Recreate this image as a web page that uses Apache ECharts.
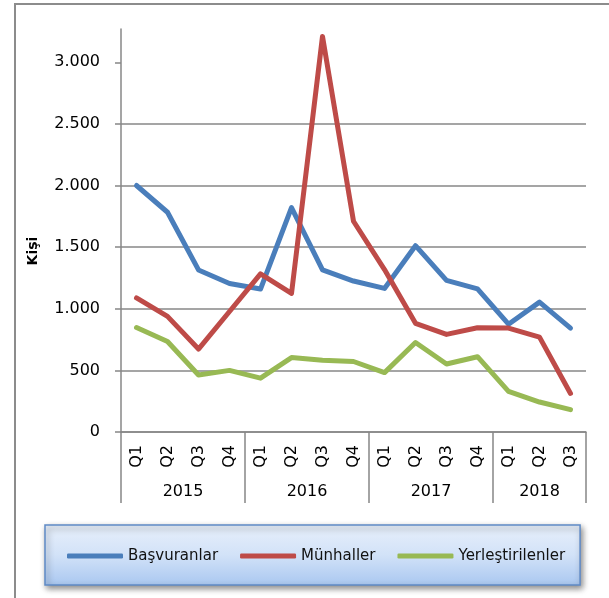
<!DOCTYPE html>
<html>
<head>
<meta charset="utf-8">
<script src="https://cdn.jsdelivr.net/npm/echarts@6/dist/echarts.min.js"></script>
<style>
html,body{margin:0;padding:0;background:#fff;}
#chart{width:609px;height:598px;}
</style>
</head>
<body>
<div id="chart"></div>
<script>
// veriler
var quarters = ['Q1','Q2','Q3','Q4','Q1','Q2','Q3','Q4','Q1','Q2','Q3','Q4','Q1','Q2','Q3'];
var years = ['2015','2016','2017','2018'];
var quartersPerYear = [4, 4, 4, 3];
var yTicks = [0, 500, 1000, 1500, 2000, 2500, 3000];
var basvuranlar = [2000, 1783, 1315, 1205, 1160, 1820, 1315, 1225, 1165, 1512, 1230, 1162, 875, 1054, 843];
var munhaller = [1088, 938, 673, 978, 1283, 1124, 3210, 1710, 1318, 882, 792, 846, 843, 770, 313];
var yerlestirilenler = [848, 734, 463, 500, 437, 604, 583, 572, 482, 726, 552, 611, 330, 243, 181];

// yil sinirlari ve ortalari
var bounds = [0], mids = [];
quartersPerYear.forEach(function(n, i){
    mids.push(bounds[i] + n / 2);
    bounds.push(bounds[i] + n);
});

var gray = '#878787';
var font = 'DejaVu Sans';

var myChart = echarts.init(document.getElementById('chart'));
var option = {
    animation: false,
    color: ['#4a7ebb', '#be4b48', '#98b954'],
    grid: {left: 121, right: 23, top: 29, bottom: 166},
    graphic: [
        {type: 'rect', shape: {x: 15, y: 4, width: 700, height: 700},
         style: {fill: 'none', stroke: '#8c8c8c', lineWidth: 2}, silent: true},
        {type: 'text', x: 33, y: 251, rotation: Math.PI / 2,
         style: {text: 'Kişi', fontFamily: font, fontWeight: 'bold', fontSize: 14,
                 fill: '#000', align: 'center', verticalAlign: 'middle'}}
    ],
    legend: {
        left: 45, top: 525,
        padding: [21, 15, 19, 22],
        itemGap: 22, itemWidth: 56, itemHeight: 5,
        icon: 'roundRect',
        textStyle: {fontFamily: font, fontSize: 15, color: '#111', lineHeight: 20},
        backgroundColor: new echarts.graphic.LinearGradient(0, 0, 0, 1, [
            {offset: 0, color: '#e8f0fb'},
            {offset: 0.5, color: '#d2e2f8'},
            {offset: 1, color: '#a9c7f0'}
        ]),
        borderColor: '#5f8ac6', borderWidth: 1.5,
        shadowBlur: 6, shadowColor: 'rgba(0,0,0,0.45)', shadowOffsetX: 2, shadowOffsetY: 3,
        data: ['Başvuranlar', 'Münhaller', 'Yerleştirilenler']
    },
    xAxis: [
        {
            type: 'category', data: quarters, boundaryGap: true,
            axisLine: {lineStyle: {color: gray, width: 1.5}},
            axisTick: {interval: 0, length: 35, lineStyle: {color: gray, width: 1.5}},
            axisLabel: {interval: 0, rotate: 90, margin: 13, fontFamily: font, fontSize: 16, color: '#000'},
            splitLine: {show: false}
        },
        {
            type: 'value', min: 0, max: quarters.length, position: 'bottom',
            axisLine: {show: false},
            axisTick: {customValues: bounds, length: 71, lineStyle: {color: gray, width: 1.5}},
            axisLabel: {customValues: mids, margin: 52, fontFamily: font, fontSize: 16, color: '#000',
                formatter: function(v){ return years[mids.indexOf(v)]; }},
            splitLine: {show: false}
        }
    ],
    yAxis: {
        type: 'value', min: 0, max: 3270, interval: 500,
        axisLine: {show: true, lineStyle: {color: gray, width: 1.5}},
        axisTick: {show: true, customValues: yTicks, length: 6, lineStyle: {color: gray, width: 1.5}},
        axisLabel: {customValues: yTicks, margin: 21, fontFamily: font, fontSize: 16, color: '#000',
            formatter: function(v){ return String(v).replace(/\B(?=(\d{3})+(?!\d))/g, '.'); }},
        splitLine: {showMaxLine: false, lineStyle: {color: gray, width: 1.5}}
    },
    series: [
        {name: 'Başvuranlar', type: 'line', data: basvuranlar, symbol: 'none', lineStyle: {width: 5, join: 'round', cap: 'round'}},
        {name: 'Münhaller', type: 'line', data: munhaller, symbol: 'none', lineStyle: {width: 5, join: 'round', cap: 'round'}},
        {name: 'Yerleştirilenler', type: 'line', data: yerlestirilenler, symbol: 'none', lineStyle: {width: 5, join: 'round', cap: 'round'}}
    ]
};
myChart.setOption(option);
</script>
</body>
</html>
